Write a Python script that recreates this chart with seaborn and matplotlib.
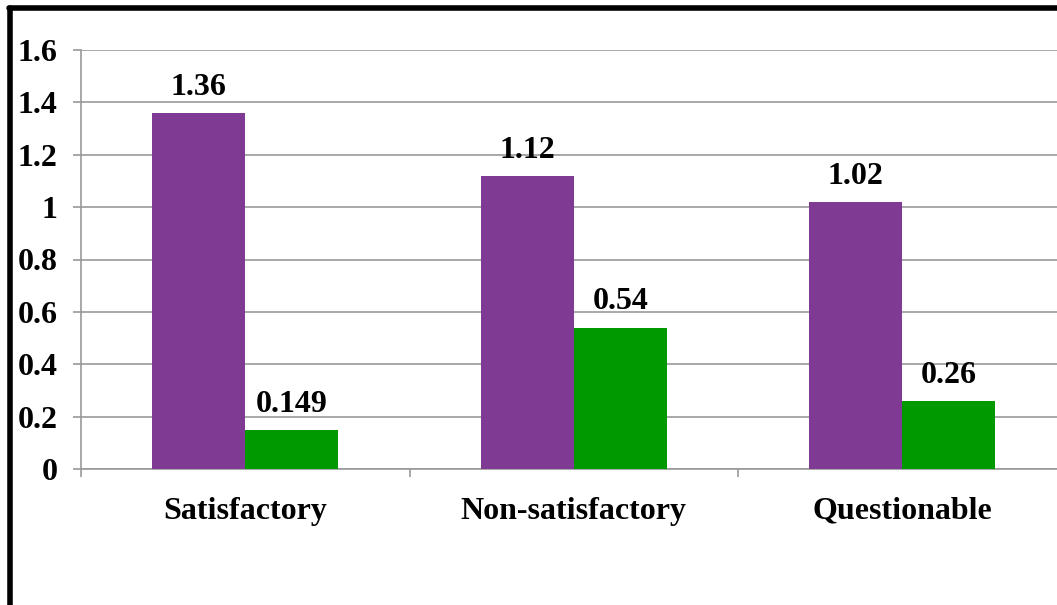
import numpy as np
import pandas as pd
import matplotlib
matplotlib.use("Agg")
import matplotlib.pyplot as plt
from matplotlib.lines import Line2D
import seaborn as sns

categories = ["Satisfactory", "Non-satisfactory", "Questionable"]
mean_vals = [1.36, 1.12, 1.02]
sd_vals = [0.149, 0.54, 0.26]
mean_labels = ["1.36", "1.12", "1.02"]
sd_labels = ["0.149", "0.54", "0.26"]

df = pd.DataFrame({
    "category": categories * 2,
    "value": mean_vals + sd_vals,
    "group": ["Mean"] * 3 + ["SD"] * 3,
})

sns.set_style("white")
plt.rcParams["font.family"] = ["Liberation Serif", "DejaVu Serif"]
plt.rcParams["font.weight"] = "bold"
plt.rcParams["text.color"] = "black"
plt.rcParams["xtick.color"] = "#999999"
plt.rcParams["ytick.color"] = "#999999"
plt.rcParams["xtick.labelcolor"] = "black"
plt.rcParams["ytick.labelcolor"] = "black"

fig = plt.figure(figsize=(10.57, 6.05), dpi=100)
ax = fig.add_axes([81 / 1057, 136 / 605, (1057 - 81) / 1057, (469 - 50) / 605])

sns.barplot(data=df, x="category", y="value", hue="group",
            palette=["#7F3B94", "#009900"], width=0.567, saturation=1,
            linewidth=0, edgecolor="none",
            legend=False, ax=ax, zorder=3)

for cont, labs in zip(ax.containers, [mean_labels, sd_labels]):
    ax.bar_label(cont, labels=labs, padding=8, fontsize=23, fontweight="bold",
                 color="black")

ax.set_yticks(np.arange(0, 1.61, 0.2))
ax.set_yticklabels(["0", "0.2", "0.4", "0.6", "0.8", "1", "1.2", "1.4", "1.6"],
                   fontsize=23, fontweight="bold")
ax.yaxis.grid(True, color="#999999", linewidth=1.2, zorder=0)
ax.set_axisbelow(True)

ax.set_xticks([-0.5, 0.5, 1.5, 2.5])
ax.set_xticklabels([])
ax.set_xticks([0, 1, 2], minor=True)
ax.set_xticklabels(categories, minor=True, fontsize=23, fontweight="bold")
ax.tick_params(axis="x", which="major", bottom=True, length=6, width=1.2,
               color="#999999", direction="out")
ax.tick_params(axis="x", which="minor", bottom=True, length=0, pad=20)
ax.tick_params(axis="y", left=True, length=6, width=1.2, color="#999999", pad=11)

# limits last, set_xticks would widen them
ax.set_ylim(0, 1.6)
ax.set_xlim(-0.5, 2.471)

ax.set_xlabel("")
ax.set_ylabel("")
for s in ["top", "right"]:
    ax.spines[s].set_visible(False)
for s in ["left", "bottom"]:
    ax.spines[s].set_color("#999999")
    ax.spines[s].set_linewidth(1.2)

# outer black frame (left and top)
fig.add_artist(Line2D([10 / 1057, 10 / 1057], [0, 1 - 8 / 605], color="black", lw=4))
fig.add_artist(Line2D([8.5 / 1057, 1], [1 - 8 / 605, 1 - 8 / 605], color="black", lw=4))

fig.savefig("out.png", dpi=100)
